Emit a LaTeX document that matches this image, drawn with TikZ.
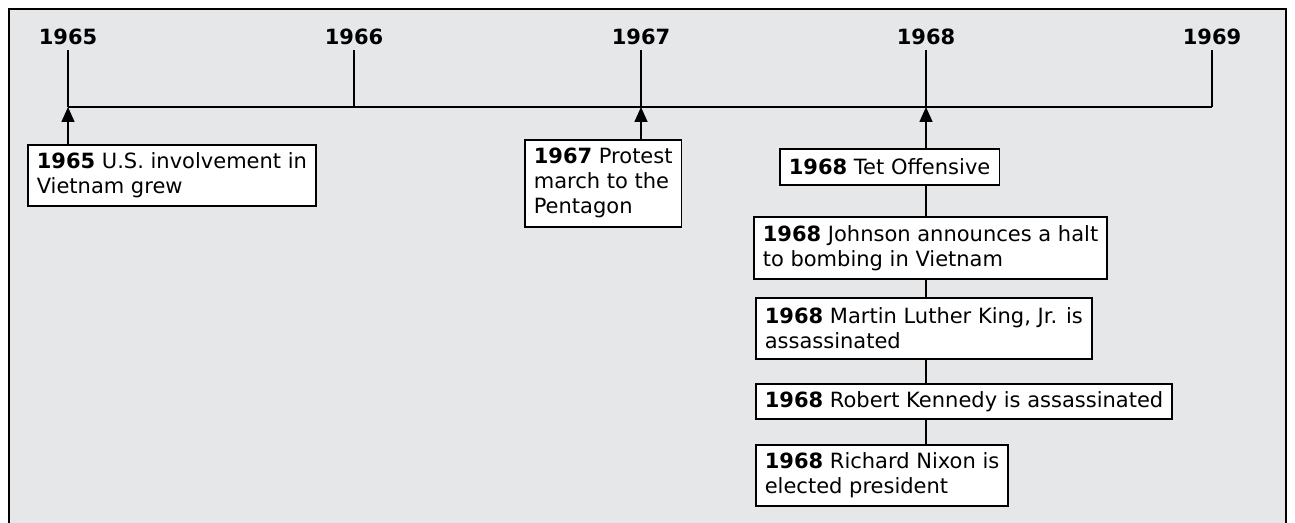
\documentclass[tikz,border=0pt]{standalone}
\usepackage{fontspec}
\setmainfont{DejaVu Sans}
\usepackage{xcolor}
\usetikzlibrary{arrows.meta}
\definecolor{bggray}{HTML}{E6E7E8}

\begin{document}
\begin{tikzpicture}[x=0.5pt, y=-0.5pt,
    event/.style={draw, fill=white, line width=0.8pt, anchor=north west, align=left,
                  font=\fontsize{10.5}{12.5}\selectfont, inner xsep=4.5pt, inner ysep=0pt},
    year/.style={anchor=south, font=\fontsize{10.5}{12.5}\selectfont\bfseries, inner sep=2.5pt},
    link/.style={line width=0.8pt},
    arrow/.style={-{Triangle[width=6.5pt,length=7.5pt]}, line width=0.8pt}
  ]
    \useasboundingbox (0,0) rectangle (1295,523);
    \fill[bggray] (9,9) rectangle (1286,523);
    \draw[line width=1pt] (9,523) -- (9,9) -- (1286,9) -- (1286,523);

    % years and axis
    \foreach \yr/\x in {65/68,66/354,67/641,68/926,69/1212} {
      \coordinate (a\yr) at (\x,107);
      \node[year] (y\yr) at (\x,50) {19\yr};
      \draw[link] (y\yr.south) -- (a\yr);
    }
    \draw[link] (a65) -- (a69);

    % events
    \node[event, minimum height=30.5pt] (b65) at (27,144) {\textbf{1965} U.S. involvement in\\Vietnam grew};
    \node[event, minimum height=43.5pt] (b67) at (524,139) {\textbf{1967} Protest\\march to the\\Pentagon};
    \node[event, minimum height=18pt] (tet) at (779,148) {\textbf{1968} Tet Offensive};
    \node[event, minimum height=31pt] (halt) at (753,216) {\textbf{1968} Johnson announces a halt\\to bombing in Vietnam};
    \node[event, minimum height=30.5pt] (mlk) at (755,297) {\textbf{1968} Martin Luther King, Jr. is\\assassinated};
    \node[event, minimum height=17.5pt] (rfk) at (755,383) {\textbf{1968} Robert Kennedy is assassinated};
    \node[event, minimum height=30.5pt] (nixon) at (755,444) {\textbf{1968} Richard Nixon is\\elected president};

    \draw[arrow] (b65.north -| a65) -- (a65);
    \draw[arrow] (b67.north -| a67) -- (a67);
    \draw[arrow] (tet.north -| a68) -- (a68);
    \draw[link] (tet.south -| a68) -- (halt.north -| a68);
    \draw[link] (halt.south -| a68) -- (mlk.north -| a68);
    \draw[link] (mlk.south -| a68) -- (rfk.north -| a68);
    \draw[link] (rfk.south -| a68) -- (nixon.north -| a68);
  \end{tikzpicture}
\end{document}
